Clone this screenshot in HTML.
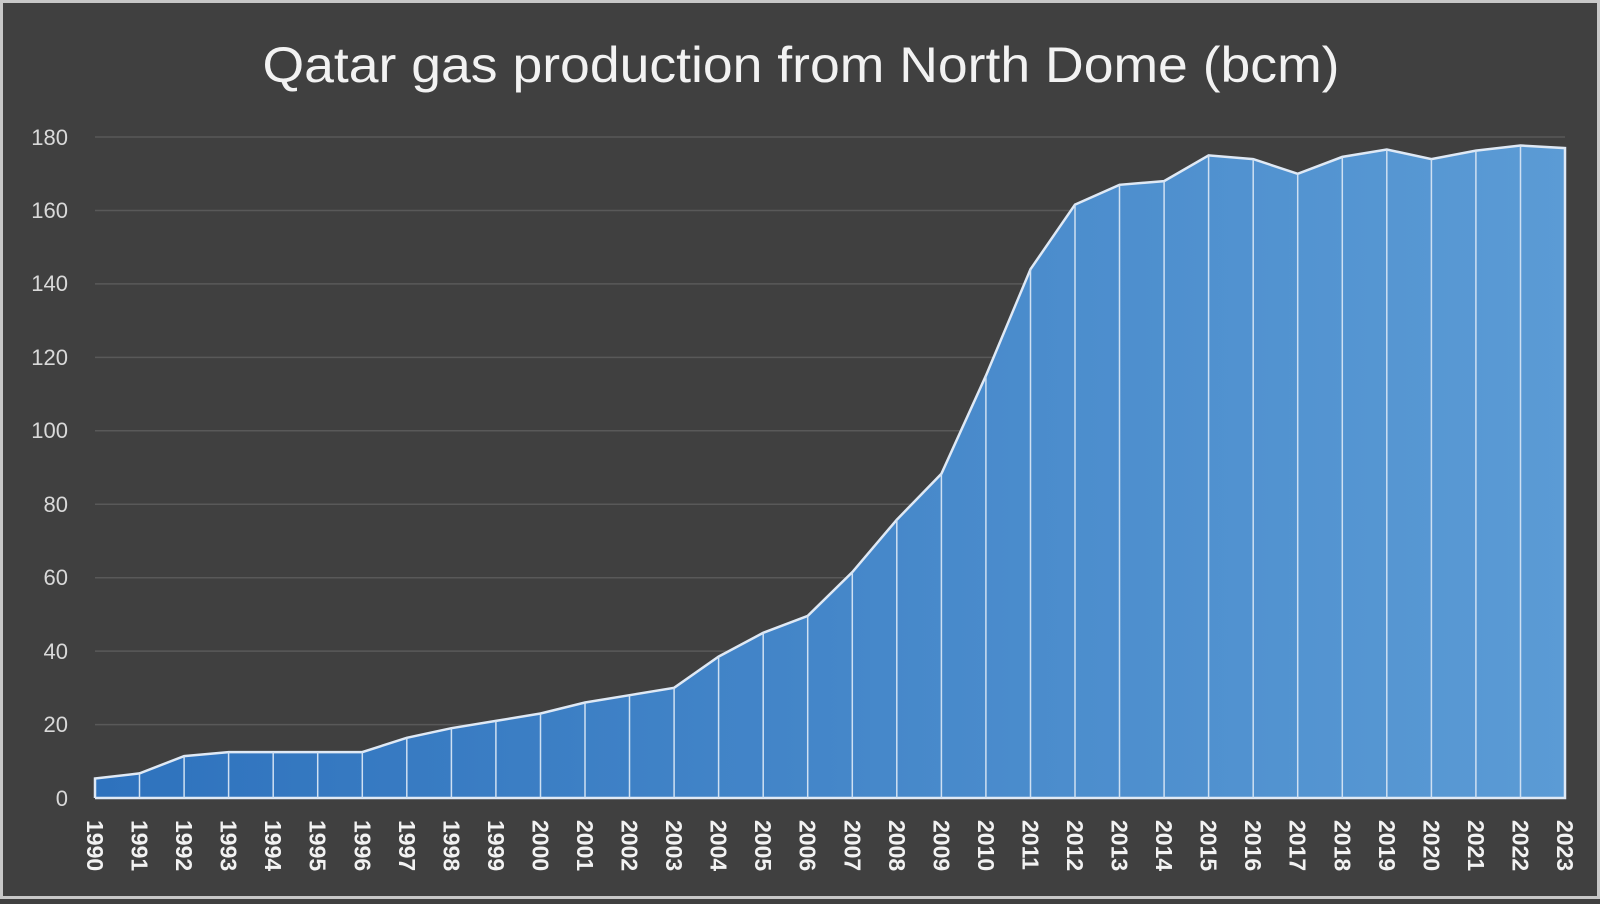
<!DOCTYPE html>
<html><head><style>html,body{margin:0;padding:0;background:#404040}</style></head>
<body>
<svg width="1600" height="899" xmlns="http://www.w3.org/2000/svg" font-family="Liberation Sans, sans-serif">
<defs>
<linearGradient id="g" x1="0" x2="1" y1="0" y2="0">
<stop offset="0" stop-color="#2e72bd"/><stop offset="1" stop-color="#5b9bd5"/>
</linearGradient>
</defs>
<rect x="0" y="0" width="1600" height="899" fill="#c8c8c8"/>
<rect x="3" y="3" width="1594" height="893" fill="#404040"/>
<text x="801" y="82" font-size="50" fill="#f2f2f2" text-anchor="middle" textLength="1077" lengthAdjust="spacingAndGlyphs">Qatar gas production from North Dome (bcm)</text>
<g stroke="#595959" stroke-width="1.5">
<line x1="95" x2="1565" y1="724.6" y2="724.6"/><line x1="95" x2="1565" y1="651.1" y2="651.1"/>
<line x1="95" x2="1565" y1="577.7" y2="577.7"/><line x1="95" x2="1565" y1="504.2" y2="504.2"/>
<line x1="95" x2="1565" y1="430.8" y2="430.8"/><line x1="95" x2="1565" y1="357.4" y2="357.4"/>
<line x1="95" x2="1565" y1="283.9" y2="283.9"/><line x1="95" x2="1565" y1="210.5" y2="210.5"/>
<line x1="95" x2="1565" y1="137" y2="137"/>
</g>
<g font-size="22" fill="#d9d9d9" text-anchor="end">
<text x="68" y="806">0</text><text x="68" y="732">20</text><text x="68" y="659">40</text><text x="68" y="585">60</text><text x="68" y="512">80</text><text x="68" y="438">100</text><text x="68" y="365">120</text><text x="68" y="291">140</text><text x="68" y="218">160</text><text x="68" y="145">180</text>
</g>
<polygon fill="url(#g)" points="95,798 95,778.5 139.5,773.4 184.1,756.1 228.6,752.1 273.2,752.1 317.7,752.1 362.3,752.1 406.8,737.8 451.4,728.2 495.9,720.9 540.5,713.5 585,702.5 629.5,695.2 674.1,687.8 718.6,656.6 763.2,632.8 807.7,615.9 852.3,572.2 896.8,519.7 941.4,473.8 985.9,375.7 1030.5,269.2 1075,204.6 1119.5,184.8 1164.1,181.1 1208.6,155.4 1253.2,159.1 1297.7,173.8 1342.3,156.9 1386.8,149.5 1431.4,159.1 1475.9,150.6 1520.5,145.5 1565,148.1 1565,798"/>
<polyline fill="none" stroke="#dfe9f5" stroke-width="2.5" points="95,798 95,778.5 139.5,773.4 184.1,756.1 228.6,752.1 273.2,752.1 317.7,752.1 362.3,752.1 406.8,737.8 451.4,728.2 495.9,720.9 540.5,713.5 585,702.5 629.5,695.2 674.1,687.8 718.6,656.6 763.2,632.8 807.7,615.9 852.3,572.2 896.8,519.7 941.4,473.8 985.9,375.7 1030.5,269.2 1075,204.6 1119.5,184.8 1164.1,181.1 1208.6,155.4 1253.2,159.1 1297.7,173.8 1342.3,156.9 1386.8,149.5 1431.4,159.1 1475.9,150.6 1520.5,145.5 1565,148.1 1565,798 95,798"/>
<g stroke="#cfe0f2" stroke-width="1.5">
<line x1="139.5" x2="139.5" y1="773.4" y2="798"/><line x1="184.1" x2="184.1" y1="756.1" y2="798"/><line x1="228.6" x2="228.6" y1="752.1" y2="798"/><line x1="273.2" x2="273.2" y1="752.1" y2="798"/><line x1="317.7" x2="317.7" y1="752.1" y2="798"/><line x1="362.3" x2="362.3" y1="752.1" y2="798"/><line x1="406.8" x2="406.8" y1="737.8" y2="798"/><line x1="451.4" x2="451.4" y1="728.2" y2="798"/><line x1="495.9" x2="495.9" y1="720.9" y2="798"/><line x1="540.5" x2="540.5" y1="713.5" y2="798"/><line x1="585" x2="585" y1="702.5" y2="798"/><line x1="629.5" x2="629.5" y1="695.2" y2="798"/><line x1="674.1" x2="674.1" y1="687.8" y2="798"/><line x1="718.6" x2="718.6" y1="656.6" y2="798"/><line x1="763.2" x2="763.2" y1="632.8" y2="798"/><line x1="807.7" x2="807.7" y1="615.9" y2="798"/><line x1="852.3" x2="852.3" y1="572.2" y2="798"/><line x1="896.8" x2="896.8" y1="519.7" y2="798"/><line x1="941.4" x2="941.4" y1="473.8" y2="798"/><line x1="985.9" x2="985.9" y1="375.7" y2="798"/><line x1="1030.5" x2="1030.5" y1="269.2" y2="798"/><line x1="1075" x2="1075" y1="204.6" y2="798"/><line x1="1119.5" x2="1119.5" y1="184.8" y2="798"/><line x1="1164.1" x2="1164.1" y1="181.1" y2="798"/><line x1="1208.6" x2="1208.6" y1="155.4" y2="798"/><line x1="1253.2" x2="1253.2" y1="159.1" y2="798"/><line x1="1297.7" x2="1297.7" y1="173.8" y2="798"/><line x1="1342.3" x2="1342.3" y1="156.9" y2="798"/><line x1="1386.8" x2="1386.8" y1="149.5" y2="798"/><line x1="1431.4" x2="1431.4" y1="159.1" y2="798"/><line x1="1475.9" x2="1475.9" y1="150.6" y2="798"/><line x1="1520.5" x2="1520.5" y1="145.5" y2="798"/>
</g>
<g font-size="23" font-weight="bold" fill="#f2f2f2">
<text transform="translate(87,820) rotate(90)">1990</text><text transform="translate(131.5,820) rotate(90)">1991</text><text transform="translate(176.1,820) rotate(90)">1992</text><text transform="translate(220.6,820) rotate(90)">1993</text><text transform="translate(265.2,820) rotate(90)">1994</text><text transform="translate(309.7,820) rotate(90)">1995</text><text transform="translate(354.3,820) rotate(90)">1996</text><text transform="translate(398.8,820) rotate(90)">1997</text><text transform="translate(443.4,820) rotate(90)">1998</text><text transform="translate(487.9,820) rotate(90)">1999</text><text transform="translate(532.5,820) rotate(90)">2000</text><text transform="translate(577,820) rotate(90)">2001</text><text transform="translate(621.5,820) rotate(90)">2002</text><text transform="translate(666.1,820) rotate(90)">2003</text><text transform="translate(710.6,820) rotate(90)">2004</text><text transform="translate(755.2,820) rotate(90)">2005</text><text transform="translate(799.7,820) rotate(90)">2006</text><text transform="translate(844.3,820) rotate(90)">2007</text><text transform="translate(888.8,820) rotate(90)">2008</text><text transform="translate(933.4,820) rotate(90)">2009</text><text transform="translate(977.9,820) rotate(90)">2010</text><text transform="translate(1022.5,820) rotate(90)">2011</text><text transform="translate(1067,820) rotate(90)">2012</text><text transform="translate(1111.5,820) rotate(90)">2013</text><text transform="translate(1156.1,820) rotate(90)">2014</text><text transform="translate(1200.6,820) rotate(90)">2015</text><text transform="translate(1245.2,820) rotate(90)">2016</text><text transform="translate(1289.7,820) rotate(90)">2017</text><text transform="translate(1334.3,820) rotate(90)">2018</text><text transform="translate(1378.8,820) rotate(90)">2019</text><text transform="translate(1423.4,820) rotate(90)">2020</text><text transform="translate(1467.9,820) rotate(90)">2021</text><text transform="translate(1512.5,820) rotate(90)">2022</text><text transform="translate(1557,820) rotate(90)">2023</text>
</g>
</svg>
</body></html>
